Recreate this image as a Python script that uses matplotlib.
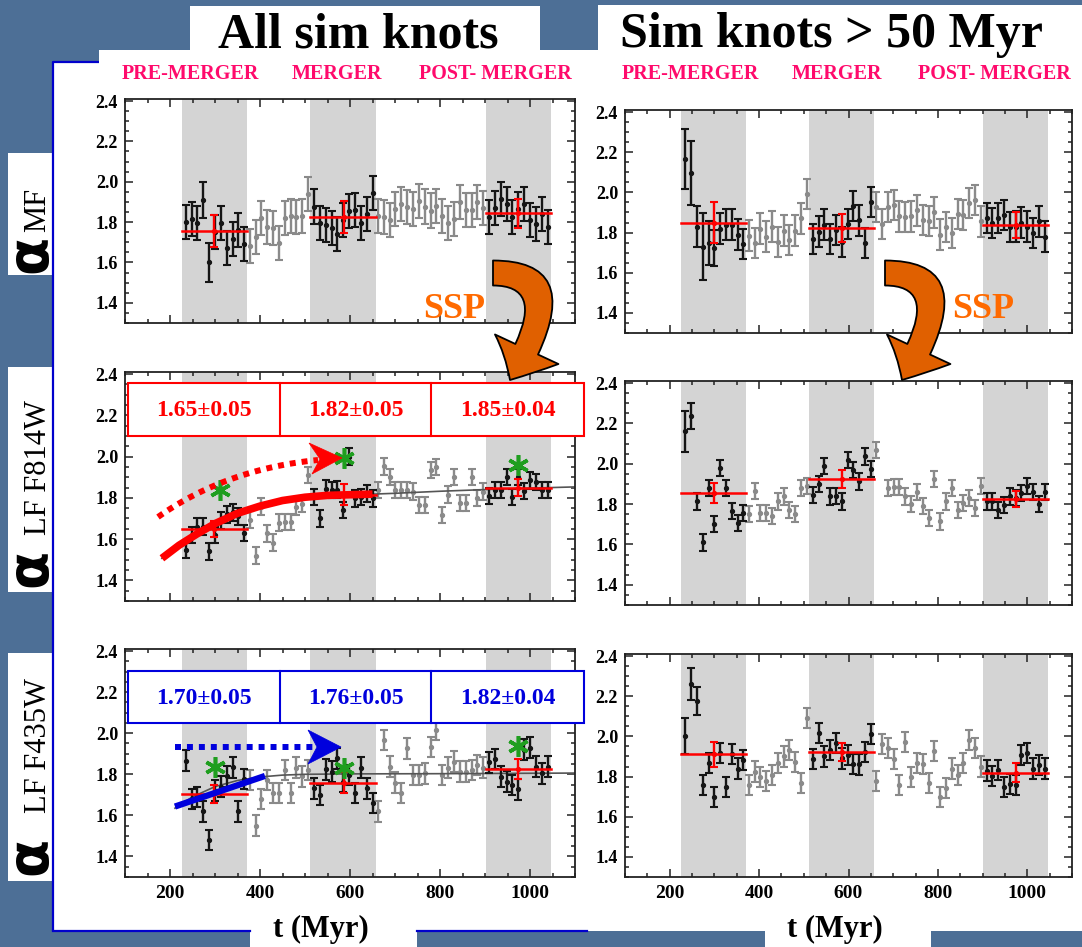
import numpy as np
import matplotlib
matplotlib.use('Agg')
import matplotlib.pyplot as plt
from matplotlib.patches import Rectangle, FancyArrowPatch, Polygon, ArrowStyle
from matplotlib.path import Path
from matplotlib.ticker import MultipleLocator, FormatStrFormatter

W, H = 1082, 947
SERIF = ['Liberation Serif', 'DejaVu Serif']
plt.rcParams['font.family'] = SERIF
plt.rcParams['font.weight'] = 'bold'

# ---------------- data ----------------
t_myr = [235, 248, 261, 274, 287, 300, 313, 326, 339, 352, 365,
         377, 390, 403, 416, 429, 442, 455, 468, 481, 494, 507,
         520, 533, 546, 559, 572, 585, 598, 611, 624, 637, 650,
         662, 675, 688, 701, 714, 727, 740, 753, 766, 779, 792, 805, 818, 831, 844, 857, 870, 883, 896,
         909, 922, 935, 948, 961, 974, 987, 1000, 1013, 1026, 1039]

phases = [(226, 370), (512, 657), (902, 1047)]
phase_names = ['PRE-MERGER', 'MERGER', 'POST- MERGER']
mean_t = [298, 586, 974]

alpha_mf_all = [1.80, 1.816, 1.795, 1.91, 1.60, 1.75, 1.795, 1.67, 1.715, 1.76, 1.69,
                1.68, 1.726, 1.82, 1.775, 1.77, 1.695, 1.82, 1.83, 1.825, 1.83, 1.94,
                1.877, 1.795, 1.785, 1.77, 1.74, 1.81, 1.855, 1.86, 1.795, 1.84, 1.945,
                1.83, 1.825, 1.81, 1.865, 1.89, 1.875, 1.865, 1.906, 1.877, 1.857, 1.88, 1.83, 1.795, 1.816, 1.898, 1.86, 1.86, 1.898, 1.87,
                1.825, 1.87, 1.914, 1.89, 1.825, 1.865, 1.89, 1.81, 1.79, 1.84, 1.775]
alpha_mf_old = [2.165, 2.098, 1.83, 1.73, 1.747, 1.724, 1.82, 1.84, 1.84, 1.79, 1.744,
                1.785, 1.747, 1.82, 1.78, 1.83, 1.755, 1.81, 1.764, 1.81, 1.87, 1.99,
                1.767, 1.805, 1.84, 1.77, 1.813, 1.755, 1.843, 1.93, 1.86, 1.75, 1.95,
                1.926, 1.843, 1.926, 1.937, 1.88, 1.876, 1.88, 1.91, 1.863, 1.858, 1.90, 1.79, 1.826, 1.797, 1.893, 1.888, 1.949, 1.96, 1.855,
                1.871, 1.846, 1.871, 1.888, 1.826, 1.83, 1.85, 1.83, 1.797, 1.855, 1.78]
alpha_814_all = [1.547, 1.62, 1.66, 1.66, 1.54, 1.62, 1.69, 1.72, 1.73, 1.71, 1.63,
                 1.695, 1.52, 1.757, 1.628, 1.583, 1.68, 1.684, 1.684, 1.757, 1.77, 1.91,
                 1.805, 1.70, 1.845, 1.837, 1.84, 1.74, 2.0, 1.797, 1.805, 1.82, 1.797,
                 1.837, 1.953, 1.90, 1.837, 1.837, 1.837, 1.83, 1.765, 1.765, 1.934, 1.95, 1.716, 1.816, 1.90, 1.776, 1.776, 1.90, 1.80, 1.83,
                 1.808, 1.837, 1.837, 1.90, 1.805, 1.90, 1.834, 1.885, 1.877, 1.837, 1.837]
alpha_814_old = [2.16, 2.238, 1.813, 1.61, 1.88, 1.70, 1.98, 1.88, 1.767, 1.706, 1.755,
                 1.75, 1.863, 1.755, 1.755, 1.739, 1.813, 1.838, 1.772, 1.75, 1.88, 1.888,
                 1.846, 1.90, 1.99, 1.838, 1.84, 1.813, 2.02, 1.97, 1.912, 2.036, 1.974,
                 2.07, np.nan, 1.88, 1.883, 1.883, 1.838, 1.80, 1.858, 1.792, 1.73, 1.924, 1.714, 1.813, 1.88, 1.772, 1.805, 1.83, 1.78, 1.888,
                 1.813, 1.813, 1.772, 1.797, 1.838, 1.83, 1.855, 1.888, 1.858, 1.80, 1.858]
alpha_435_all = [1.866, 1.68, 1.69, 1.62, 1.48, 1.72, 1.74, 1.79, 1.834, 1.62, 1.776,
                 1.772, 1.55, 1.68, 1.772, 1.708, 1.708, 1.82, 1.708, 1.832, 1.79, 1.82,
                 1.732, 1.70, 1.824, 1.813, 1.878, 1.764, 1.797, 1.71, 1.832, 1.732, 1.66,
                 1.62, 1.967, 1.837, 1.76, 1.708, 1.926, 1.797, 1.797, 1.805, 1.934, 2.015, 1.797, 1.832, 1.862, 1.813, 1.813, 1.82, 1.845, 1.832,
                 1.858, 1.875, 1.789, 1.764, 1.748, 1.727, 1.92, 1.93, 1.837, 1.805, 1.837]
alpha_435_old = [2.002, 2.26, 2.174, 1.759, 1.866, 1.70, 1.915, 1.747, 1.91, 1.84, 1.882,
                 1.759, 1.825, 1.80, 1.78, 1.808, 1.869, 1.90, 1.93, 1.874, 1.767, 2.09,
                 1.886, 2.017, 1.90, 1.93, 1.965, 1.89, 1.907, 1.862, 1.86, 1.923, 2.014,
                 1.78, 1.96, 1.943, 1.886, 1.76, 1.97, 1.80, 1.866, 1.862, 1.767, 1.927, 1.70, 1.742, 1.84, 1.808, 1.866, 1.984, 1.94, 1.85,
                 1.83, 1.803, 1.833, 1.75, 1.764, 1.76, 1.907, 1.918, 1.84, 1.858, 1.84]

# typical error per panel, with the few larger ones
err_mf_all, err_mf_all_fix = 0.085, {3: 0.09, 4: 0.095}
err_mf_old, err_mf_old_fix = 0.075, {0: 0.15, 1: 0.16, 2: 0.10, 3: 0.165, 4: 0.11, 5: 0.09}
err_814_all, err_814_all_fix = 0.04, {}
err_814_old, err_814_old_fix = 0.04, {0: 0.10, 1: 0.065}
err_435_all, err_435_all_fix = 0.05, {}
err_435_old, err_435_old_fix = 0.05, {0: 0.09, 1: 0.08, 2: 0.07}

means_mf_all, mean_err_mf_all = [1.755, 1.825, 1.843], [0.08, 0.08, 0.07]
means_mf_old, mean_err_mf_old = [1.85, 1.823, 1.838], [0.10, 0.07, 0.065]
means_814_all, mean_err_814_all = [1.65, 1.815, 1.85], [0.04, 0.05, 0.04]
means_814_old, mean_err_814_old = [1.857, 1.925, 1.826], [0.05, 0.045, 0.04]
means_435_all, mean_err_435_all = [1.705, 1.76, 1.825], [0.045, 0.05, 0.05]
means_435_old, mean_err_435_old = [1.91, 1.922, 1.82], [0.06, 0.045, 0.045]

box_814 = ['1.65\u00b10.05', '1.82\u00b10.05', '1.85\u00b10.04']
box_435 = ['1.70\u00b10.05', '1.76\u00b10.05', '1.82\u00b10.04']

ssp_814_t, ssp_814_v = [311, 587, 973], [1.837, 1.995, 1.96]
ssp_435_t, ssp_435_v = [300, 587, 973], [1.837, 1.83, 1.94]

fit_814_t = [182, 220, 260, 300, 350, 400, 450, 500, 550, 600, 650, 700, 800, 900, 1000, 1100]
fit_814_v = [1.507, 1.57, 1.625, 1.675, 1.725, 1.76, 1.787, 1.803, 1.812, 1.815, 1.818, 1.822, 1.832, 1.84, 1.847, 1.853]
fit_435_t = [211, 250, 300, 350, 400, 450, 500, 600, 800, 1000, 1100]
fit_435_v = [1.635, 1.69, 1.74, 1.77, 1.787, 1.796, 1.80, 1.802, 1.803, 1.805, 1.806]
line_435_t, line_435_v = [211, 411], [1.643, 1.792]

# ---------------- styling ----------------
BG = '#4d6f96'
GRAY = '#8a8a8a'
BLACK = '#151515'
PINK = '#ff0a6c'
ORANGE_T = '#ff6a00'
RED = '#ff0000'
BLUE = '#0000dd'
GREEN = '#1f9e1f'

fig = plt.figure(figsize=(W / 100, H / 100), dpi=100)
fig.patch.set_facecolor(BG)

bg = fig.add_axes([0, 0, 1, 1])
bg.set_xlim(0, W); bg.set_ylim(H, 0); bg.axis('off'); bg.set_zorder(-5)

def rect(ax, x, y, w, h, **kw):
    ax.add_patch(Rectangle((x, y), w, h, **kw))

# white slide areas
rect(bg, 99, 50, W - 99, 881, fc='white', ec='none')
rect(bg, 53, 62, 50, 869, fc='white', ec='none')
rect(bg, 190, 6, 350, 50, fc='white', ec='none')
rect(bg, 598, 5, W - 598, 50, fc='white', ec='none')
rect(bg, 250, 925, 167, 22, fc='white', ec='none')
rect(bg, 765, 925, 166, 22, fc='white', ec='none')
for (y0, y1) in [(153, 275), (367, 592), (653, 881)]:
    rect(bg, 8, y0, 45, y1 - y0, fc='white', ec='none')
bg.plot([53, 53, 99], [931, 62, 62], color='#0000cc', lw=1.6, solid_capstyle='butt')
bg.plot([53, 250], [931, 931], color='#0000cc', lw=1.6)
bg.plot([417, 587], [931, 931], color='#0000cc', lw=1.6)

bg.text(358, 47, 'All sim knots', fontsize=36, fontweight='bold', ha='center', va='baseline', color='black')
bg.text(831, 47, 'Sim knots > 50 Myr', fontsize=36, fontweight='bold', ha='center', va='baseline', color='black')
for cx_list in ([190, 337, 495], [690, 837, 994]):
    for cx, name in zip(cx_list, phase_names):
        bg.text(cx, 74, name, fontsize=14.5, fontweight='bold', color=PINK, ha='center', va='center')
for cx in (321, 835):
    bg.text(cx, 929, 't (Myr)', fontsize=22, fontweight='bold', ha='center', va='center')

# y labels
for (ya, ys, sub) in [(254, 210, 'MF'), (568, 467, 'LF F814W'), (856, 745, 'LF F435W')]:
    bg.text(31, ya, '\u03b1', fontsize=40, fontweight='bold', family=['DejaVu Sans'],
            rotation=90, ha='center', va='center')
    bg.text(38, ys, sub, fontsize=22, fontweight='normal', rotation=90, ha='center', va='center')


def panel(box, vals, err, err_fix, means, mean_err, show_x):
    l, tp, r, b = box
    ax = fig.add_axes([l / W, 1 - b / H, (r - l) / W, (b - tp) / H])
    ax.set_xlim(100, 1100)
    ax.set_ylim(1.3, 2.41)
    for (s, e) in phases:
        ax.axvspan(s, e, color='#d4d4d4', lw=0, zorder=0)
    tt = np.array(t_myr, float)
    vv = np.array(vals, float)
    ee = np.full(len(tt), err, float)
    for i, v in err_fix.items():
        ee[i] = v
    ok = np.isfinite(vv)
    inside = np.zeros(len(tt), bool)
    for s, e in phases:
        inside |= (tt >= s) & (tt <= e)
    for sel, col, z in [(~inside & ok, GRAY, 2), (inside & ok, BLACK, 3)]:
        ax.errorbar(tt[sel], vv[sel], yerr=ee[sel], fmt='o', ms=2.8, color=col, ecolor=col,
                    elinewidth=1.7, capsize=2.6, capthick=1.5, zorder=z)
    for (s, e), m, me, mt in zip(phases, means, mean_err, mean_t):
        ax.plot([s, e], [m, m], color=RED, lw=1.8, zorder=4)
        ax.errorbar([mt], [m], yerr=[me], fmt='o', ms=2.8, color=RED, ecolor=RED,
                    elinewidth=1.7, capsize=3, capthick=1.5, zorder=4)
    ax.xaxis.set_major_locator(MultipleLocator(200))
    ax.xaxis.set_minor_locator(MultipleLocator(50))
    ax.yaxis.set_major_locator(MultipleLocator(0.2))
    ax.yaxis.set_minor_locator(MultipleLocator(0.05))
    ax.yaxis.set_major_formatter(FormatStrFormatter('%.1f'))
    ax.tick_params(which='both', direction='in', top=True, right=True, width=1.1, color='#222222')
    ax.tick_params(which='major', length=6)
    ax.tick_params(which='minor', length=3)
    ax.tick_params(axis='y', pad=5, labelsize=13)
    ax.tick_params(axis='x', pad=6, labelsize=14, labelbottom=show_x)
    for lab in ax.get_xticklabels() + ax.get_yticklabels():
        lab.set_fontweight('bold')
    for sp in ax.spines.values():
        sp.set_linewidth(1.3)
        sp.set_color('#222222')
    return ax

ax_tl = panel((125, 99, 575, 323), alpha_mf_all, err_mf_all, err_mf_all_fix, means_mf_all, mean_err_mf_all, False)
ax_ml = panel((125, 372, 575, 601), alpha_814_all, err_814_all, err_814_all_fix, means_814_all, mean_err_814_all, False)
ax_bl = panel((125, 649, 575, 877), alpha_435_all, err_435_all, err_435_all_fix, means_435_all, mean_err_435_all, True)
ax_tr = panel((625, 110, 1072, 333), alpha_mf_old, err_mf_old, err_mf_old_fix, means_mf_old, mean_err_mf_old, False)
ax_mr = panel((625, 381, 1072, 605), alpha_814_old, err_814_old, err_814_old_fix, means_814_old, mean_err_814_old, False)
ax_br = panel((625, 654, 1072, 877), alpha_435_old, err_435_old, err_435_old_fix, means_435_old, mean_err_435_old, True)

# fits
ax_ml.plot(fit_814_t, fit_814_v, color='#555555', lw=1.2, zorder=2.5)
ft = np.array(fit_814_t); fv = np.array(fit_814_v)
m = ft <= 650
ax_ml.plot(ft[m], fv[m], color=RED, lw=5.5, zorder=5, solid_capstyle='butt')
ax_bl.plot(fit_435_t, fit_435_v, color='#555555', lw=1.2, zorder=2.5)
ax_bl.plot(line_435_t, line_435_v, color=BLUE, lw=4.5, zorder=5, solid_capstyle='butt')
for ax, st, sv in [(ax_ml, ssp_814_t, ssp_814_v), (ax_bl, ssp_435_t, ssp_435_v)]:
    ax.plot(st, sv, ls='none', marker=(6, 2, 0), ms=15, mew=2.6, color=GREEN, zorder=7)

# ---------------- overlay annotations ----------------
ov = fig.add_axes([0, 0, 1, 1])
ov.set_xlim(0, W); ov.set_ylim(H, 0); ov.axis('off'); ov.set_zorder(10)

for (y0, y1, col, texts) in [(383, 436, RED, box_814), (671, 723, BLUE, box_435)]:
    rect(ov, 128, y0, 456, y1 - y0, fc='white', ec=col, lw=1.5)
    for xd in (280, 431):
        ov.plot([xd, xd], [y0, y1], color=col, lw=1.5)
    for cx, tx in zip((204, 355.5, 507.5), texts):
        ov.text(cx, (y0 + y1) / 2 + 1, tx, color=col, fontsize=17, fontweight='bold', ha='center', va='center')

# SSP curved arrows
for x0 in (493, 885):
    p = Path([(x0, 273), (x0 + 82, 273), (x0 + 17, 380)], [Path.MOVETO, Path.CURVE3, Path.CURVE3])
    arr = FancyArrowPatch(path=p, arrowstyle=ArrowStyle.Simple(head_length=0.7, head_width=1.4, tail_width=0.5),
                          mutation_scale=36, fc='#e06000', ec='black', lw=1.3)
    ov.add_patch(arr)
ov.text(454, 309, 'SSP', color=ORANGE_T, fontsize=26, fontweight='bold', ha='center', va='center')
ov.text(983, 309, 'SSP', color=ORANGE_T, fontsize=26, fontweight='bold', ha='center', va='center')

# dotted arrows (quadratic curve sampled for the red one)
s = np.linspace(0, 1, 60)[:, None]
P0, P1, P2 = np.array([158, 517]), np.array([226, 469]), np.array([318, 460])
curve = (1 - s) ** 2 * P0 + 2 * s * (1 - s) * P1 + s ** 2 * P2
ov.plot(curve[:, 0], curve[:, 1], color=RED, lw=4.3, ls=(0, (1, 1)), dash_capstyle='butt')
ov.add_patch(Polygon([(309, 443), (342, 458), (312, 474), (320, 459)], closed=True, fc=RED, ec=RED, lw=0.5))
ov.plot([175, 317], [747, 747], color=BLUE, lw=4.3, ls=(0, (1, 1)), dash_capstyle='butt')
ov.add_patch(Polygon([(308, 730), (341, 747), (308, 764), (317, 747)], closed=True, fc=BLUE, ec=BLUE, lw=0.5))

fig.savefig('out.png', dpi=100, facecolor=fig.get_facecolor())
